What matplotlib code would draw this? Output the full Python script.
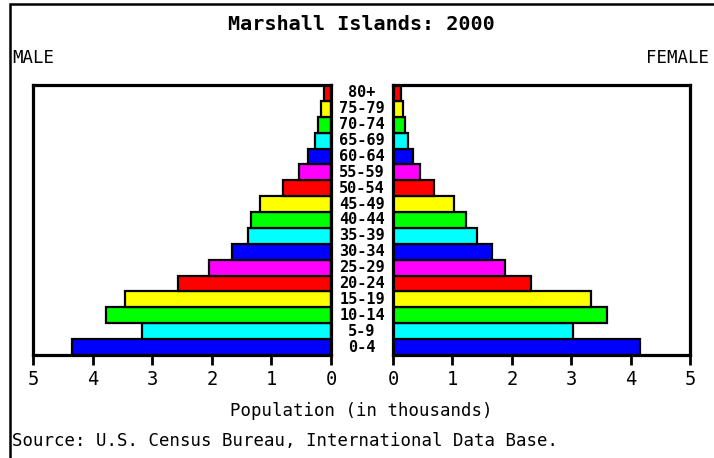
import matplotlib
matplotlib.use("Agg")
import matplotlib.pyplot as plt
from matplotlib.transforms import blended_transform_factory
from matplotlib.patches import Rectangle

age_groups = ["0-4", "5-9", "10-14", "15-19", "20-24", "25-29", "30-34", "35-39",
              "40-44", "45-49", "50-54", "55-59", "60-64", "65-69", "70-74", "75-79", "80+"]
male = [4.35, 3.17, 3.78, 3.46, 2.57, 2.05, 1.66, 1.39, 1.35, 1.19, 0.81, 0.54,
        0.39, 0.27, 0.22, 0.16, 0.12]
female = [4.16, 3.03, 3.60, 3.33, 2.33, 1.88, 1.67, 1.41, 1.23, 1.03, 0.69, 0.45,
          0.33, 0.25, 0.21, 0.16, 0.13]
palette = ["#0000ff", "#00ffff", "#00ff00", "#ffff00", "#ff0000", "#ff00ff"]
xticks = [0, 1, 2, 3, 4, 5]

FONT = "DejaVu Sans Mono"
W, H = 714, 458
fig = plt.figure(figsize=(W / 100, H / 100), dpi=100)

def fx(px):
    return px / W

def fy(py):
    return 1 - py / H

bottom = fy(355)
height = fy(85) - bottom
axL = fig.add_axes([fx(33), bottom, fx(331) - fx(33), height])
axR = fig.add_axes([fx(393), bottom, fx(690) - fx(393), height])

colors = [palette[i % len(palette)] for i in range(len(age_groups))]
ypos = list(range(len(age_groups)))

for ax, vals in ((axL, male), (axR, female)):
    ax.barh(ypos, vals, height=1.0, color=colors, edgecolor="black", linewidth=1.6)
    ax.set_ylim(-0.5, len(age_groups) - 0.5)
    ax.set_yticks([])
    ax.set_xticks(xticks)
    ax.set_xticklabels([str(t) for t in xticks], fontfamily=FONT, fontsize=13.5)
    ax.tick_params(axis="x", length=7, width=2, pad=4)
    for s in ax.spines.values():
        s.set_linewidth(2.3)

axL.set_xlim(5, 0)
axR.set_xlim(0, 5)

trans = blended_transform_factory(fig.transFigure, axL.transData)
for y, lab in zip(ypos, age_groups):
    axL.text(fx(362), y, lab, transform=trans, ha="center", va="center",
             fontfamily=FONT, fontsize=11, fontweight="bold", clip_on=False)

fig.text(fx(361), fy(25), "Marshall Islands: 2000", ha="center", va="center",
         fontfamily=FONT, fontsize=14.5, fontweight="bold")
fig.text(fx(12), fy(58), "MALE", ha="left", va="center", fontfamily=FONT, fontsize=12.5)
fig.text(fx(709), fy(58), "FEMALE", ha="right", va="center", fontfamily=FONT, fontsize=12.5)
fig.text(fx(361), fy(411), "Population (in thousands)", ha="center", va="center",
         fontfamily=FONT, fontsize=12.5)
fig.text(fx(12), fy(441), "Source: U.S. Census Bureau, International Data Base.",
         ha="left", va="center", fontfamily=FONT, fontsize=12.5)

fig.add_artist(Rectangle((fx(10), -0.1), 1.2, fy(4) + 0.1, transform=fig.transFigure,
                         fill=False, edgecolor="black", linewidth=1.8))

fig.savefig("out.png", dpi=100)
